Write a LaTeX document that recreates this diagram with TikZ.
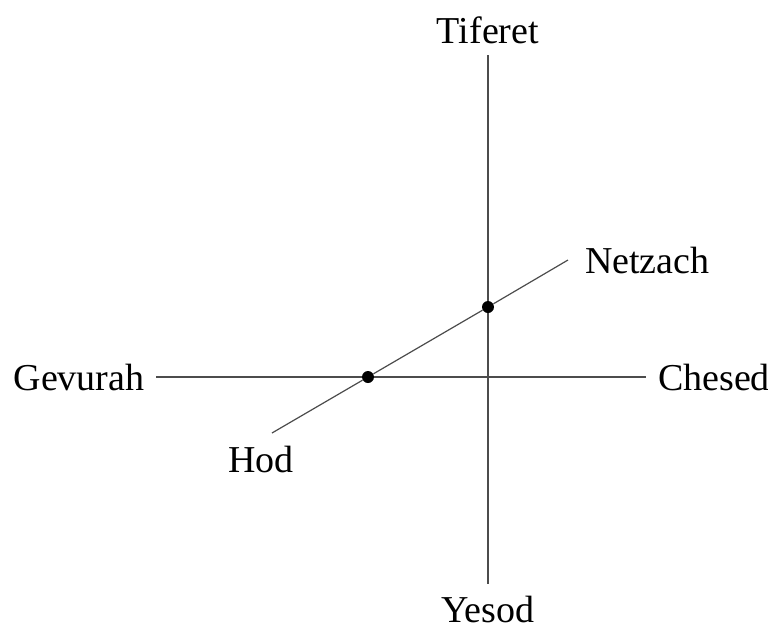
\documentclass[tikz,border=0pt]{standalone}
\usepackage{fontspec}
\setmainfont{Liberation Serif}
\begin{document}
\begin{tikzpicture}[
    x=0.5pt, y=-0.5pt,
    sefira/.style={font=\fontsize{19}{22}\selectfont, inner sep=0pt, outer sep=6pt},
    axis/.style={draw=black!70, line width=0.75pt},
    point/.style={circle, fill=black, inner sep=0pt, minimum size=6pt}
]
\useasboundingbox (0,0) rectangle (768,628);

% Labels at the four ends of the cross
\node[sefira, anchor=base] (tiferet) at (488,43) {Tiferet};
\node[sefira, anchor=base] (yesod) at (488,622) {Yesod};
\node[sefira, anchor=base] (gevurah) at (79,390) {Gevurah};
\node[sefira, anchor=base] (chesed) at (714,390) {Chesed};

% Labels of the slanted line
\node[sefira, anchor=base west] (netzach) at (573,273) {Netzach};
\node[sefira, anchor=base west] (hod) at (216,472) {Hod};

% Free ends of the slanted line
\coordinate (hodend) at (272,433);
\coordinate (netzachend) at (568,260);

% The cross
\draw[axis] (tiferet) -- (yesod);
\draw[axis] (gevurah) -- (chesed);

% Slanted line and its two points (drawn on top)
\node[point] (lowpt) at (368,377) {};
\node[point] (highpt) at (488,307) {};
\draw[axis, line width=0.6pt] (hodend) -- (lowpt) -- (highpt) -- (netzachend);

\end{tikzpicture}
\end{document}
